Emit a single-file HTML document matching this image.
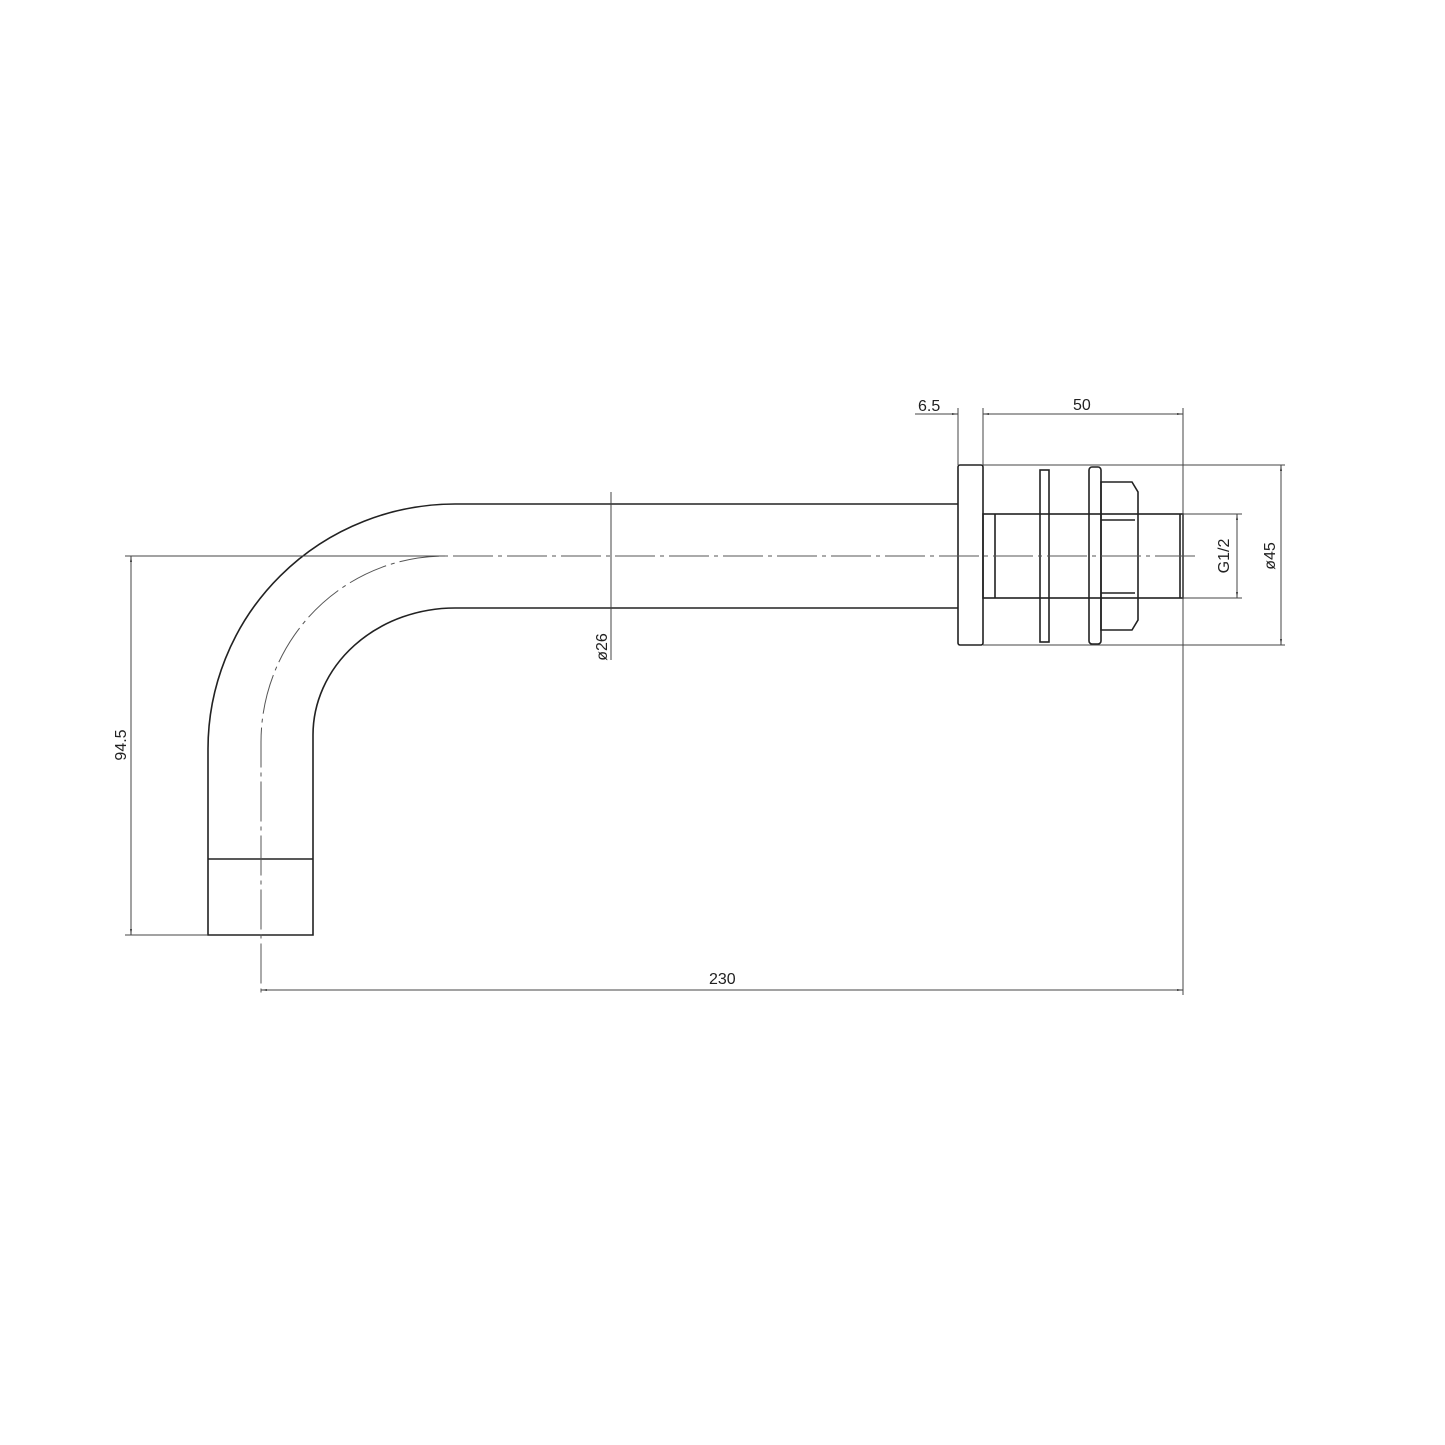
<!DOCTYPE html>
<html><head><style>body{margin:0;background:#fff}svg{display:block}text{font-family:"Liberation Sans",sans-serif;font-size:16px;fill:#222}</style></head>
<body>
<svg width="1445" height="1445" viewBox="0 0 1445 1445" xmlns="http://www.w3.org/2000/svg">
<defs>
<marker id="a" viewBox="0 0 10 10" refX="10" refY="5" markerWidth="10" markerHeight="6" orient="auto-start-reverse" markerUnits="userSpaceOnUse"><path d="M0,3.5L10,5L0,6.5z" fill="#222"/></marker>
</defs>
<g fill="none" stroke="#222" stroke-width="1.6">
<path d="M958,504 H455 A247,245 0 0 0 208,749 V935 H313 V735 A142,127 0 0 1 455,608 H958"/>
<line x1="208" y1="859" x2="313" y2="859"/>
<rect x="958" y="465" width="25" height="180" rx="2"/>
<rect x="983" y="514" width="200" height="84"/>
<line x1="995" y1="514" x2="995" y2="598"/>
<line x1="1180" y1="514" x2="1180" y2="598"/>
<rect x="1040" y="470" width="9" height="172"/>
<rect x="1089" y="467" width="12" height="177" rx="3"/>
<path d="M1101,482 H1132 L1138,492 V620 L1132,630 H1101 Z"/>
<line x1="1101" y1="520" x2="1135" y2="520"/>
<line x1="1101" y1="593" x2="1135" y2="593"/>
</g>
<g fill="none" stroke="#555" stroke-width="1" stroke-dasharray="40,5,4,5">
<path d="M1195,556 H445 A184,186 0 0 0 261,742 V995"/>
</g>
<g fill="none" stroke="#444" stroke-width="1">
<line x1="958" y1="408" x2="958" y2="465"/>
<line x1="983" y1="408" x2="983" y2="465"/>
<line x1="1183" y1="408" x2="1183" y2="995"/>
<line x1="983" y1="465" x2="1285" y2="465"/>
<line x1="983" y1="645" x2="1285" y2="645"/>
<line x1="1183" y1="514" x2="1242" y2="514"/>
<line x1="1183" y1="598" x2="1242" y2="598"/>
<line x1="915" y1="414" x2="958" y2="414" marker-end="url(#a)"/>
<line x1="983" y1="414" x2="1183" y2="414" marker-start="url(#a)" marker-end="url(#a)"/>
<line x1="1281" y1="465" x2="1281" y2="645" marker-start="url(#a)" marker-end="url(#a)"/>
<line x1="1237" y1="514" x2="1237" y2="598" marker-start="url(#a)" marker-end="url(#a)"/>
<line x1="611" y1="492" x2="611" y2="660" />
<line x1="125" y1="556" x2="445" y2="556"/>
<line x1="125" y1="935" x2="208" y2="935"/>
<line x1="131" y1="556" x2="131" y2="935" marker-start="url(#a)" marker-end="url(#a)"/>
<line x1="261" y1="990" x2="1183" y2="990" marker-start="url(#a)" marker-end="url(#a)"/>
</g>
<text x="918" y="411">6.5</text>
<text x="1073" y="410">50</text>
<text x="709" y="984">230</text>
<text transform="translate(1275,556) rotate(-90)" text-anchor="middle">ø45</text>
<text transform="translate(1229,556) rotate(-90)" text-anchor="middle">G1/2</text>
<text transform="translate(607,647) rotate(-90)" text-anchor="middle">ø26</text>
<text transform="translate(126,745) rotate(-90)" text-anchor="middle">94.5</text>
</svg>
</body></html>
